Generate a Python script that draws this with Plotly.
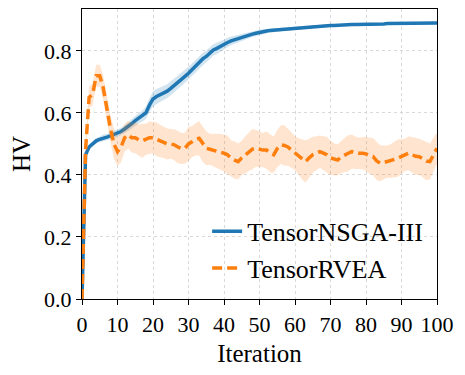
"""HV over iterations for TensorNSGA-III vs TensorRVEA (mean line with spread band)."""

import plotly.graph_objects as go

BLUE = "#1f77b4"
ORANGE = "#ff7f0e"
FONT = "Liberation Serif"

iterations = list(range(101))

nsga_mean = [
    0.000, 0.465, 0.490, 0.500, 0.510, 0.515, 0.520, 0.522, 0.526, 0.530,
    0.535, 0.540, 0.548, 0.555, 0.565, 0.575, 0.583, 0.590, 0.600, 0.625,
    0.645, 0.653, 0.658, 0.664, 0.670, 0.679, 0.688, 0.699, 0.708, 0.718,
    0.728, 0.740, 0.750, 0.762, 0.774, 0.782, 0.793, 0.803, 0.808, 0.815,
    0.822, 0.827, 0.832, 0.836, 0.840, 0.844, 0.848, 0.851, 0.854, 0.857,
    0.860, 0.862, 0.864, 0.866, 0.867, 0.869, 0.870, 0.871, 0.872, 0.873,
    0.874, 0.875, 0.876, 0.877, 0.878, 0.879, 0.879, 0.880, 0.881, 0.881,
    0.882, 0.882, 0.883, 0.883, 0.884, 0.884, 0.885, 0.885, 0.885, 0.886,
    0.886, 0.886, 0.887, 0.887, 0.887, 0.887, 0.888, 0.888, 0.888, 0.888,
    0.888, 0.889, 0.889, 0.889, 0.889, 0.889, 0.890, 0.890, 0.890, 0.890,
    0.890,
]

nsga_spread = [
    0.000, 0.006, 0.008, 0.008, 0.009, 0.009, 0.010, 0.010, 0.011, 0.011,
    0.012, 0.012, 0.013, 0.014, 0.015, 0.016, 0.017, 0.018, 0.020, 0.022,
    0.024, 0.024, 0.023, 0.023, 0.022, 0.022, 0.022, 0.021, 0.021, 0.021,
    0.021, 0.020, 0.020, 0.020, 0.020, 0.019, 0.019, 0.018, 0.018, 0.017,
    0.016, 0.015, 0.014, 0.013, 0.012, 0.011, 0.010, 0.010, 0.009, 0.009,
    0.008, 0.008, 0.007, 0.007, 0.007, 0.006, 0.006, 0.006, 0.006, 0.005,
    0.005, 0.005, 0.005, 0.005, 0.005, 0.004, 0.004, 0.004, 0.004, 0.004,
    0.004, 0.004, 0.004, 0.004, 0.003, 0.003, 0.003, 0.003, 0.003, 0.003,
    0.003, 0.003, 0.003, 0.003, 0.003, 0.003, 0.003, 0.003, 0.003, 0.003,
    0.003, 0.003, 0.003, 0.003, 0.003, 0.003, 0.003, 0.003, 0.003, 0.003,
    0.003,
]

rvea_mean = [
    0.000, 0.480, 0.650, 0.660, 0.720, 0.720, 0.680, 0.610, 0.550, 0.500,
    0.475, 0.490, 0.520, 0.530, 0.520, 0.520, 0.513, 0.510, 0.515, 0.520,
    0.520, 0.515, 0.510, 0.505, 0.500, 0.500, 0.497, 0.490, 0.485, 0.486,
    0.500, 0.507, 0.515, 0.518, 0.500, 0.486, 0.483, 0.480, 0.478, 0.475,
    0.470, 0.465, 0.454, 0.448, 0.443, 0.455, 0.465, 0.475, 0.483, 0.486,
    0.483, 0.480, 0.480, 0.470, 0.465, 0.485, 0.497, 0.495, 0.490, 0.480,
    0.470, 0.460, 0.450, 0.443, 0.455, 0.465, 0.470, 0.475, 0.470, 0.465,
    0.455, 0.450, 0.448, 0.458, 0.465, 0.470, 0.475, 0.472, 0.470, 0.470,
    0.468, 0.462, 0.459, 0.445, 0.438, 0.440, 0.443, 0.445, 0.450, 0.454,
    0.460, 0.465, 0.470, 0.465, 0.460, 0.459, 0.452, 0.445, 0.443, 0.465,
    0.486,
]

rvea_spread = [
    0.000, 0.030, 0.035, 0.035, 0.035, 0.035, 0.040, 0.045, 0.045, 0.048,
    0.045, 0.050, 0.045, 0.045, 0.048, 0.050, 0.050, 0.055, 0.050, 0.052,
    0.050, 0.055, 0.052, 0.050, 0.050, 0.048, 0.050, 0.052, 0.050, 0.050,
    0.055, 0.050, 0.052, 0.055, 0.058, 0.055, 0.050, 0.052, 0.055, 0.058,
    0.060, 0.062, 0.058, 0.060, 0.058, 0.055, 0.060, 0.062, 0.065, 0.060,
    0.058, 0.055, 0.060, 0.062, 0.058, 0.060, 0.062, 0.065, 0.060, 0.058,
    0.055, 0.058, 0.065, 0.068, 0.062, 0.058, 0.055, 0.052, 0.055, 0.058,
    0.055, 0.052, 0.050, 0.052, 0.055, 0.058, 0.055, 0.052, 0.050, 0.052,
    0.055, 0.058, 0.060, 0.062, 0.058, 0.055, 0.052, 0.055, 0.058, 0.060,
    0.055, 0.052, 0.055, 0.058, 0.060, 0.058, 0.060, 0.062, 0.058, 0.055,
    0.050,
]


def add_band(fig, mean, spread, fillcolor):
    upper = [m + s for m, s in zip(mean, spread)]
    lower = [m - s for m, s in zip(mean, spread)]
    fig.add_trace(go.Scatter(x=iterations, y=upper, mode="lines", line=dict(width=0),
                             showlegend=False, hoverinfo="skip"))
    fig.add_trace(go.Scatter(x=iterations, y=lower, mode="lines", line=dict(width=0),
                             fill="tonexty", fillcolor=fillcolor,
                             showlegend=False, hoverinfo="skip"))


fig = go.Figure()

add_band(fig, nsga_mean, nsga_spread, "rgba(31,119,180,0.2)")
fig.add_trace(go.Scatter(x=iterations, y=nsga_mean, mode="lines", name="TensorNSGA-III",
                         line=dict(color=BLUE, width=3.5)))

add_band(fig, rvea_mean, rvea_spread, "rgba(255,127,14,0.2)")
fig.add_trace(go.Scatter(x=iterations, y=rvea_mean, mode="lines", name="TensorRVEA",
                         line=dict(color=ORANGE, width=3.5, dash="10px,5px")))

axis_common = dict(
    showline=True, linecolor="black", linewidth=1.2, mirror=True,
    ticks="outside", ticklen=5, tickcolor="black",
    showgrid=True, gridcolor="#d9d9d9", griddash="dot", gridwidth=1,
    zeroline=False,
    tickfont=dict(family=FONT, size=22, color="black"),
)

fig.update_xaxes(range=[0, 100], dtick=10,
                 title=dict(text="Iteration", font=dict(family=FONT, size=25, color="black"), standoff=8),
                 **axis_common)
fig.update_yaxes(range=[0, 0.935], dtick=0.2, tickformat=".1f",
                 title=dict(text="HV", font=dict(family=FONT, size=25, color="black"), standoff=8),
                 **axis_common)

# page body keeps an 8px margin, so the figure is 8px smaller than the window
fig.update_layout(
    width=457, height=367,
    template="plotly_white",
    plot_bgcolor="white", paper_bgcolor="white",
    margin=dict(l=74, r=28, t=1, b=76, autoexpand=False),
    font=dict(family=FONT, color="black"),
    legend=dict(x=0.975, y=0.025, xanchor="right", yanchor="bottom", traceorder="normal",
                bgcolor="rgba(0,0,0,0)", font=dict(family=FONT, size=26, color="black"),
                tracegroupgap=0),
)

fig.write_html("out.html")
